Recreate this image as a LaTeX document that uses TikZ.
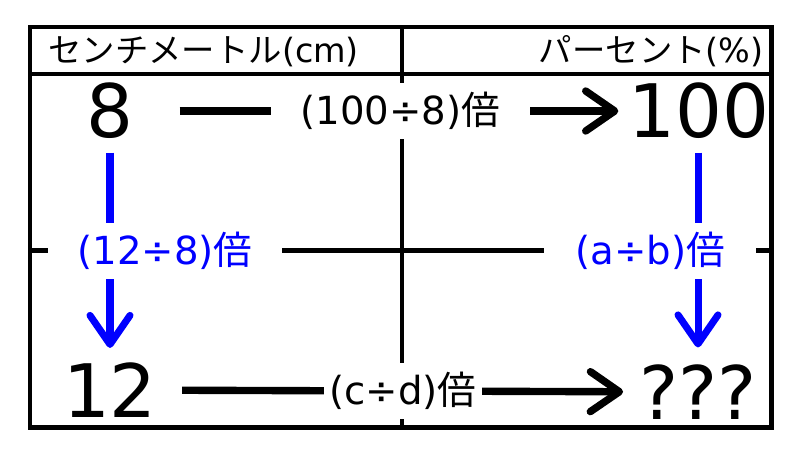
\documentclass[tikz,border=0pt]{standalone}
\usepackage{fontspec}
\setmainfont{DejaVu Sans}
\newfontfamily\jp{Noto Sans CJK JP}
\usetikzlibrary{arrows.meta}

\begin{document}
\begin{tikzpicture}[x=0.02cm, y=-0.02cm, >={Straight Barb[length=0.58cm, width=0.8cm, round]},
  big/.style={font=\fontsize{42}{50}\selectfont},
  head/.style={font=\fontsize{19}{23}\selectfont, inner sep=0},
  lbl/.style={fill=white, inner ysep=5pt, font=\fontsize{22}{26}\selectfont}]

\useasboundingbox[fill=white] (0,0) rectangle (800,450);

%\draw[step=50, gray!40] (0,0) grid (800,450);

\draw[line width=2.3pt] (30,27) rectangle (771.5,427.5);
\draw[line width=2.4pt] (30,74) -- (771.5,74);
\draw[line width=2.7pt] (402,27) -- (402,427.5);
\draw[line width=2.7pt] (30,250.5) -- (771.5,250.5);

\node[head, anchor=base west] (hcm) at (48,62) {{\jp センチメートル}(cm)};
\node[head, anchor=base east] (hpct) at (764,62) {{\jp パーセント}(\%)};

\node[big] (n8) at (110,111) {8};
\node[big] (n100) at (699,111) {100};
\node[big] (n12) at (110,390) {12};
\node[big] (nq) at (698,392) {???};

\draw[->, line width=4.2pt, shorten <=0.8cm, shorten >=0.08cm] (n8) -- (n100)
node[lbl, inner xsep=17pt, pos=0.54] (l100) {(100÷8){\jp 倍}};
\draw[->, line width=4.2pt, shorten <=0.38cm, shorten >=0.2cm] (n12) -- (nq)
node[lbl, inner xsep=3pt, pos=0.51] (lcd) {(c÷d){\jp 倍}};

\draw[->, blue, line width=4pt, shorten <=0.15cm, shorten >=0.17cm] (n8) -- (n12);
\draw[->, blue, line width=4pt, shorten <=0.15cm, shorten >=0.22cm] (n100.south -| nq) -- (nq);

\node[lbl, text=blue, inner xsep=17pt] (l12) at (165,251) {(12÷8){\jp 倍}};
\node[lbl, text=blue, inner xsep=18pt] (lab) at (650,251) {(a÷b){\jp 倍}};

\end{tikzpicture}
\end{document}
